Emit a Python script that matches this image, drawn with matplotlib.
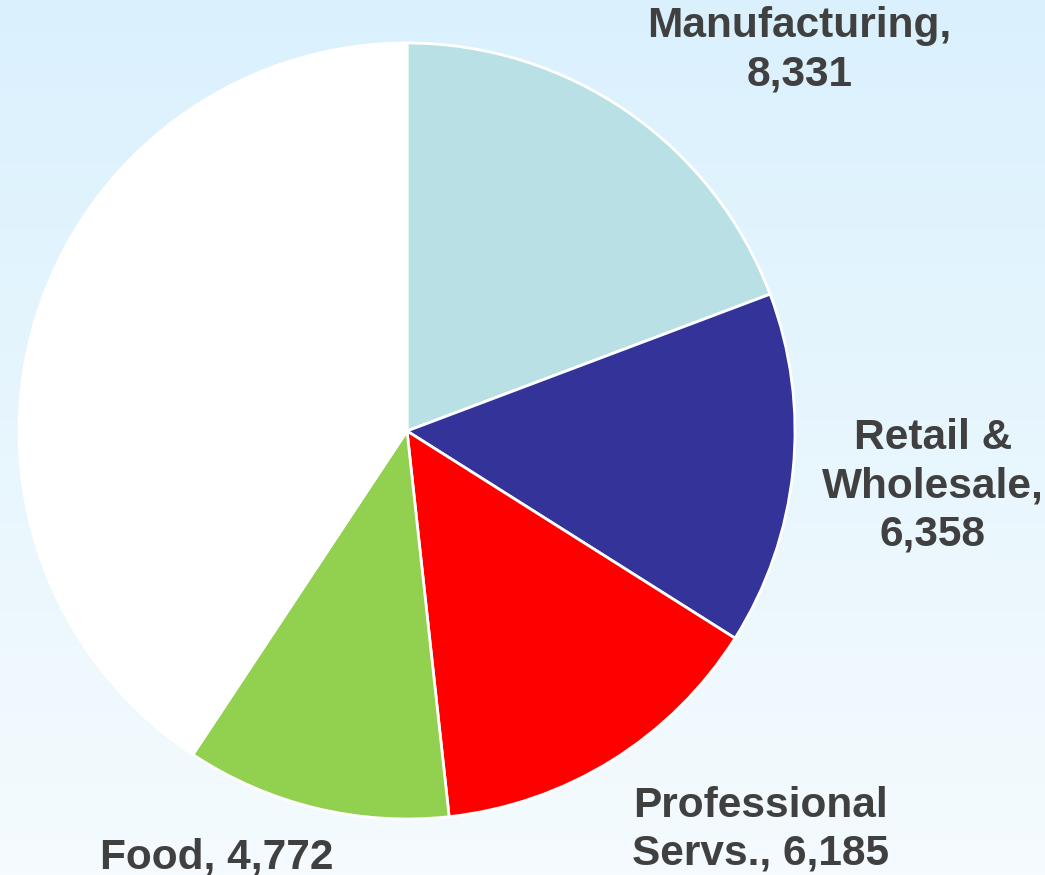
import numpy as np
import matplotlib
matplotlib.use("Agg")
import matplotlib.pyplot as plt
from matplotlib.colors import LinearSegmentedColormap

# Employment by sector
sectors = ["Manufacturing", "Retail &\nWholesale", "Professional\nServs.", "Food", "Other"]
values = [8331, 6358, 6185, 4772, 17600]
labels = ["Manufacturing,\n8,331", "Retail &\nWholesale,\n6,358",
          "Professional\nServs., 6,185", "Food, 4,772", ""]
colors = ["#b9e0e4", "#333399", "#ff0000", "#92d050", "#ffffff"]

# label anchor points in pie-axes coordinates (radius = 1)
label_xy = [(1.012, 0.981), (1.355, -0.142), (0.91, -1.028), (-0.49, -1.098), (0, 0)]

plt.rcParams['font.family'] = ['Liberation Sans', 'DejaVu Sans']

fig = plt.figure(figsize=(10.45, 8.75), dpi=100)

# soft blue vertical gradient background
bg = fig.add_axes([0, 0, 1, 1])
grad = np.linspace(0, 1, 256).reshape(-1, 1)
cmap = LinearSegmentedColormap.from_list("bg", ["#daf1fd", "#f5fbfe"])
bg.imshow(grad, aspect="auto", cmap=cmap, extent=[0, 1, 0, 1], origin="upper")
bg.set_axis_off()

cx, cy, r = 407 / 1045, 1 - 431 / 875, 388
w, h = 2 * r / 1045, 2 * r / 875
ax = fig.add_axes([cx - w / 2, cy - h / 2, w, h])
ax.pie(values, colors=colors, startangle=90, counterclock=False, radius=1,
       wedgeprops=dict(edgecolor="white", linewidth=2))
ax.set_xlim(-1, 1)
ax.set_ylim(-1, 1)
ax.set_axis_off()

for text, (x, y) in zip(labels, label_xy):
    if text:
        ax.text(x, y, text, ha="center", va="center", fontsize=30.5,
                fontweight="bold", color="#404040", linespacing=1.26,
                clip_on=False)

fig.savefig("out.png", dpi=100)
